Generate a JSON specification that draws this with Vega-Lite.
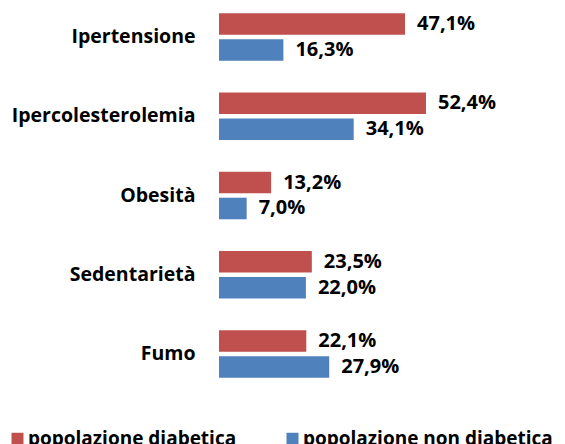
{
  "$schema": "https://vega.github.io/schema/vega-lite/v6.json",
  "autosize": "none",
  "width": 316,
  "height": 391,
  "padding": {"left": 219, "top": 0, "right": 30, "bottom": 53},
  "background": "white",
  "config": {
    "view": {"stroke": null},
    "font": "Open Sans",
    "locale": {"number": {"decimal": ",", "thousands": ".", "grouping": [3], "currency": ["€", ""]}}
  },
  "data": {
    "values": [
      {"categoria": "Ipertensione", "serie": "popolazione diabetica", "valore": 0.471},
      {"categoria": "Ipertensione", "serie": "popolazione non diabetica", "valore": 0.163},
      {"categoria": "Ipercolesterolemia", "serie": "popolazione diabetica", "valore": 0.524},
      {"categoria": "Ipercolesterolemia", "serie": "popolazione non diabetica", "valore": 0.341},
      {"categoria": "Obesità", "serie": "popolazione diabetica", "valore": 0.132},
      {"categoria": "Obesità", "serie": "popolazione non diabetica", "valore": 0.07},
      {"categoria": "Sedentarietà", "serie": "popolazione diabetica", "valore": 0.235},
      {"categoria": "Sedentarietà", "serie": "popolazione non diabetica", "valore": 0.22},
      {"categoria": "Fumo", "serie": "popolazione diabetica", "valore": 0.221},
      {"categoria": "Fumo", "serie": "popolazione non diabetica", "valore": 0.279}
    ]
  },
  "encoding": {
    "y": {
      "field": "categoria", "type": "nominal", "sort": null,
      "scale": {"paddingInner": 0.4, "paddingOuter": 0.166},
      "axis": {"title": null, "domain": false, "ticks": false, "labelPadding": 24, "labelFontSize": 19.5, "labelFontWeight": "bold", "labelColor": "#000000", "labelFont": "Open Sans", "labelLimit": 300}
    },
    "yOffset": {"field": "serie", "type": "nominal", "scale": {"paddingInner": 0.17, "paddingOuter": 0}},
    "x": {"field": "valore", "type": "quantitative", "scale": {"domain": [0, 0.8], "nice": false}, "axis": null}
  },
  "layer": [
    {
      "mark": {"type": "bar", "stroke": null},
      "encoding": {
        "color": {
          "field": "serie", "type": "nominal",
          "scale": {"domain": ["popolazione diabetica", "popolazione non diabetica"], "range": ["#C0504D", "#4F81BD"]},
          "legend": {
            "title": null, "orient": "none", "direction": "horizontal",
            "legendX": -211, "legendY": 429,
            "symbolType": "square", "symbolSize": 144, "symbolStrokeWidth": 0, "symbolOpacity": 1,
            "labelFontSize": 19, "labelFontWeight": "bold", "labelFont": "Open Sans", "labelColor": "#000000",
            "labelOffset": 1, "columnPadding": 46, "labelLimit": 400
          }
        }
      }
    },
    {
      "mark": {"type": "text", "align": "left", "baseline": "middle", "dx": 12, "fontSize": 20, "fontWeight": "bold", "font": "Open Sans", "color": "#000000"},
      "encoding": {
        "text": {"field": "valore", "type": "quantitative", "format": ".1%"}
      }
    }
  ]
}
